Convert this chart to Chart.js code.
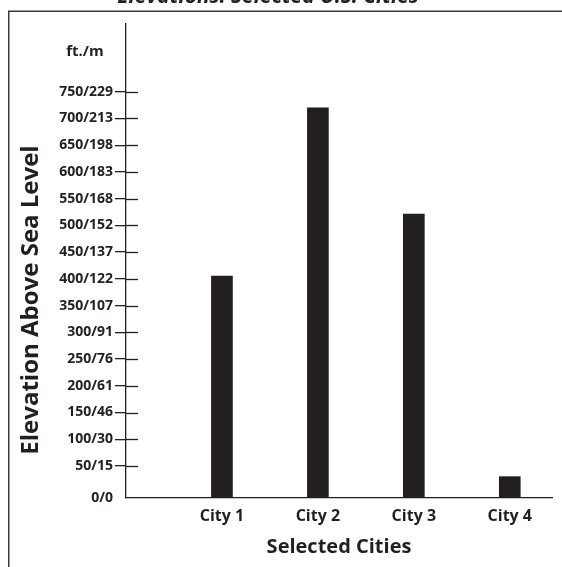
<!DOCTYPE html>
<html>
<head>
<meta charset="utf-8">
<script src="https://cdn.jsdelivr.net/npm/chart.js@4"></script>
<style>
  html, body { margin: 0; padding: 0; background: #fff; }
  #wrap { width: 562px; height: 567px; position: relative; overflow: hidden; }
</style>
</head>
<body>
<div id="wrap"><canvas id="myChart" width="562" height="567"></canvas></div>
<script>
// data
const cities = ['City 1', 'City 2', 'City 3', 'City 4'];
const elevationFt = [405, 720, 521, 30];
const tickFt = [0, 50, 100, 150, 200, 250, 300, 350, 400, 450, 500, 550, 600, 650, 700, 750];
const tickLabels = ['0/0', '50/15', '100/30', '150/46', '200/61', '250/76', '300/91', '350/107',
  '400/122', '450/137', '500/152', '550/168', '600/183', '650/198', '700/213', '750/229'];

const INK = '#231f20';
const FONT = "'Open Sans', 'Liberation Sans', sans-serif";
const Y_MIN = -9.9;   // axis bottom sits a little below the 0 line in the original
const Y_MAX = 876.7;

// frame, cut title, "ft./m" unit label, y title, inner half of the y ticks
const decorations = {
  id: 'decorations',
  beforeDraw(chart) {
    const c = chart.ctx;
    c.save();
    c.strokeStyle = '#3a3a3a';
    c.lineWidth = 1.5;
    c.strokeRect(8.75, 11.25, 700, 700);
    c.restore();
  },
  afterDraw(chart) {
    const c = chart.ctx;
    const area = chart.chartArea;
    const y = chart.scales.y;
    c.save();
    c.fillStyle = INK;
    c.textAlign = 'center';
    c.textBaseline = 'alphabetic';
    c.font = `italic bold 21px ${FONT}`;
    c.fillText('Elevations: Selected U.S. Cities', 268, 2.5);

    c.textBaseline = 'middle';
    c.font = `bold 15px ${FONT}`;
    c.fillText('ft./m', area.left - 41, area.top + 28);

    c.save();
    c.translate(31, 300);
    c.rotate(-Math.PI / 2);
    c.font = `bold 24px ${FONT}`;
    c.fillText('Elevation Above Sea Level', 0, 0);
    c.restore();

    c.strokeStyle = INK;
    c.lineWidth = 1.3;
    y.ticks.forEach((t, i) => {
      if (i === 0) return;
      const py = Math.round(y.getPixelForValue(t.value)) + 0.5;
      c.beginPath();
      c.moveTo(area.left, py);
      c.lineTo(area.left + 12, py);
      c.stroke();
    });
    c.restore();
  }
};

const ctx = document.getElementById('myChart').getContext('2d');
const myChart = new Chart(ctx, {
  type: 'bar',
  data: {
    datasets: [{
      label: 'Elevation',
      data: elevationFt.map((v, i) => ({ x: i + 1, y: v })),
      backgroundColor: INK,
      borderWidth: 0,
      barThickness: 21,
      base: Y_MIN
    }]
  },
  options: {
    responsive: false,
    animation: false,
    layout: { padding: { top: 24, right: 10, bottom: 0, left: 0 } },
    plugins: {
      legend: { display: false },
      tooltip: { enabled: false }
    },
    scales: {
      x: {
        type: 'linear',
        offset: false,
        min: 0,
        max: 4.44,
        afterFit(scale) { scale.height = 69; },
        afterBuildTicks(scale) {
          scale.ticks = cities.map((c, i) => ({ value: i + 1 }));
        },
        grid: { offset: false, drawOnChartArea: false, drawTicks: false },
        border: { display: true, color: INK, width: 1.3 },
        ticks: {
          color: INK,
          padding: 9,
          font: { family: FONT, size: 16, weight: 'bold' },
          callback: (value) => cities[value - 1]
        },
        title: {
          display: true,
          text: 'Selected Cities',
          color: INK,
          font: { family: FONT, size: 20, weight: 'bold' },
          padding: { top: 0, bottom: 8 }
        }
      },
      y: {
        min: Y_MIN,
        max: Y_MAX,
        afterFit(scale) { scale.width = 126; },
        afterBuildTicks(scale) {
          scale.ticks = tickFt.map(v => ({ value: v === 0 ? Y_MIN : v }));
        },
        grid: {
          drawOnChartArea: false,
          drawTicks: true,
          tickLength: 11,
          lineWidth: 1.3,
          color: (c) => (c.index === 0 ? 'rgba(0,0,0,0)' : INK)
        },
        border: { display: true, color: INK, width: 1.3 },
        ticks: {
          color: INK,
          padding: 2,
          font: { family: FONT, size: 14, weight: 'bold' },
          callback: (value, index) => tickLabels[index]
        }
      }
    }
  },
  plugins: [decorations]
});
</script>
</body>
</html>
